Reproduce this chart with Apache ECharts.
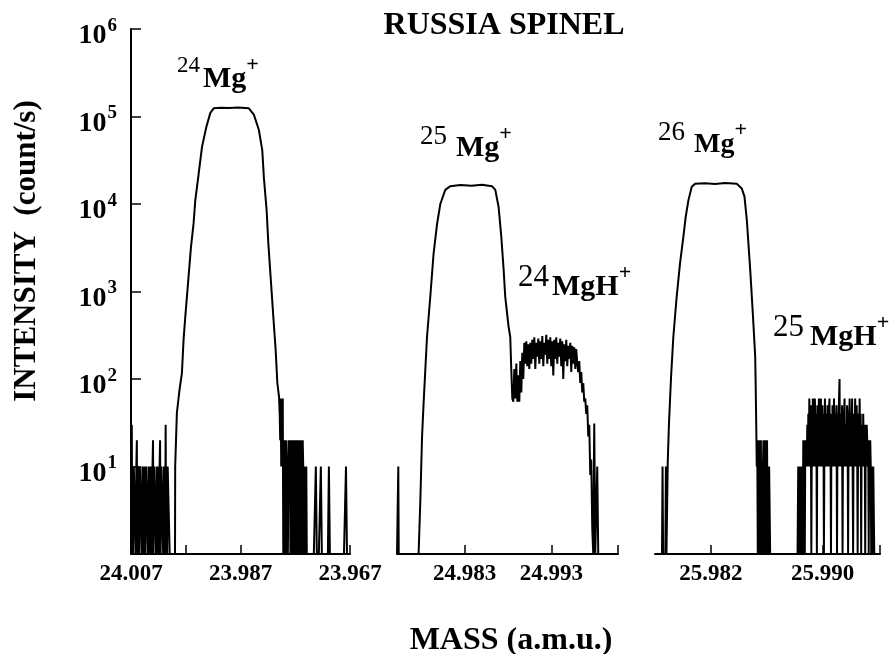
<!DOCTYPE html>
<html>
<head>
<meta charset="utf-8">
<script src="https://cdn.jsdelivr.net/npm/echarts@6/dist/echarts.min.js"></script>
<style>
  html, body { margin: 0; background: #fff; }
  #chart { width: 896px; height: 654px; }
</style>
</head>
<body>
<div id="chart"></div>
<script>
// intensity axis (counts/s, log)
const yTicks = [10, 100, 1000, 10000, 100000, 1000000];

// ---- panel 1 : 24Mg+ (mass axis runs high -> low) ----
const p1TickMass = [24.007, 23.997, 23.987, 23.977, 23.967];
const p1LabelMass = [24.007, 23.987, 23.967];
const p1NoiseLeftRange = [24.00695, 23.99984];
const p1NoiseLeft = [1, 30, 1, 10, 1, 10, 10, 10, 10, 1,
  10, 20, 1, 10, 1, 10, 1, 10, 10, 10,
  10, 1, 10, 10, 1, 10, 1, 10, 1, 10,
  10, 10, 10, 1, 10, 1, 10, 1, 10, 1,
  10, 1, 10, 20, 1, 10, 10, 10, 10, 1,
  10, 1, 10, 1, 10, 1, 10, 20, 1, 10,
  10, 10, 10, 1, 10, 1, 10, 1, 30, 1,
  10, 1, 10, 10, 10, 10, 1, 1];
const p1Peak = [[23.99896, 1], [23.99893, 10], [23.99862, 41], [23.99814, 75], [23.99770, 117],
  [23.99740, 280], [23.99709, 510], [23.99649, 1470], [23.99605, 3200], [23.99557, 6000],
  [23.99526, 11000], [23.99465, 22000], [23.99403, 45000], [23.99324, 76000], [23.99251, 110000],
  [23.99190, 124000], [23.99050, 126000], [23.98900, 125000], [23.98750, 127000], [23.98548, 124000],
  [23.98456, 105000], [23.98364, 70000], [23.98302, 41000], [23.98273, 20000], [23.98223, 8500],
  [23.98192, 3600], [23.98150, 1470], [23.98100, 510], [23.98058, 215], [23.98027, 90], [23.97997, 63]];
const p1NoiseRightRange = [23.97984, 23.97489];
const p1NoiseRight = [40, 20, 60, 10, 40, 20, 60, 1, 20, 10,
  1, 20, 1, 20, 20, 20, 1, 10, 20, 10,
  20, 1, 10, 20, 1, 20, 20, 20, 1, 20,
  1, 10, 20, 10, 1, 20, 1, 20, 20, 20,
  1, 20, 1, 10, 1, 20, 10, 1, 10, 10,
  10, 1, 10, 1];
const p1TailRange = [23.97471, 23.96700];
const p1Tail = [1, 1, 1, 1, 1, 1, 1, 1, 10, 1, 1, 1, 1, 10, 1, 1, 1, 1, 1, 1, 1, 10, 1, 1, 1,
  1, 1, 1, 1, 1, 1, 1, 1, 1, 1, 1, 1, 1, 10, 1, 1, 1, 1];

// ---- panel 2 : 25Mg+ and 24MgH+ ----
const p2TickMass = [24.983, 24.993, 25.0007];
const p2LabelMass = [24.983, 24.993];
const p2Peak = [[24.97520, 1], [24.97530, 1], [24.97535, 10], [24.97540, 1], [24.97769, 1],
  [24.97789, 4], [24.97809, 22], [24.97827, 53], [24.97866, 300], [24.97904, 870],
  [24.97942, 2700], [24.97982, 5900], [24.98020, 10000], [24.98077, 14500], [24.98135, 16000],
  [24.98250, 16500], [24.98380, 16200], [24.98500, 16600], [24.98616, 16000], [24.98654, 14500],
  [24.98692, 9300], [24.98723, 4300], [24.98750, 1800], [24.98769, 870], [24.98807, 400], [24.98827, 300]];
const p2MgHRange = [24.98839, 24.99842];
const p2MgH = [125, 60, 55, 130, 60, 150, 55, 110, 55, 160,
  70, 200, 100, 260, 150, 270, 140, 250, 130, 260,
  150, 280, 170, 300, 130, 260, 180, 290, 150, 270,
  170, 310, 140, 260, 190, 320, 150, 280, 170, 300,
  140, 270, 110, 280, 170, 300, 150, 260, 180, 290,
  140, 270, 100, 250, 160, 280, 140, 240, 170, 260,
  120, 240, 150, 230, 130, 220, 150,
  120, 160, 90, 120, 70, 90, 55, 60, 40, 50,
  22, 30, 8, 12, 2, 1, 31, 1, 1, 10, 1];
const p2End = [[24.99850, 1], [25.00070, 1]];

// ---- panel 3 : 26Mg+ and 25MgH+ ----
const p3TickMass = [25.982, 25.990, 25.9941];
const p3LabelMass = [25.982, 25.990];
const p3Peak = [[25.97800, 1], [25.97850, 1], [25.97854, 10], [25.97858, 1], [25.97874, 1],
  [25.97878, 10], [25.97882, 1], [25.97886, 1], [25.97891, 11], [25.97900, 31], [25.97915, 106],
  [25.97931, 300], [25.97955, 870], [25.97979, 2100], [25.98003, 4200], [25.98020, 7200],
  [25.98039, 11000], [25.98063, 15700], [25.98087, 17000], [25.98158, 17300], [25.98230, 16900],
  [25.98302, 17400], [25.98385, 17000], [25.98421, 15000], [25.98440, 12200], [25.98457, 6600],
  [25.98481, 1800], [25.98500, 560]];
const p3NoiseRange = [25.98517, 25.98624];
const p3Noise = [180, 80, 30, 10, 20, 1, 20, 10, 20, 1, 10, 20, 1, 10, 1,
  10, 20, 10, 1, 20, 10, 1, 10, 20, 1, 10, 1, 10, 10, 1];
const p3Gap = [[25.98820, 1]];
const p3MgHRange = [25.98825, 25.99369];
const p3MgH = [10, 1, 10, 10, 1, 10, 1, 10, 10, 1,
  20, 10, 20, 1, 20, 10, 20, 10, 30, 10,
  40, 10, 60, 20, 10, 50, 1, 30, 10, 60,
  20, 40, 10, 60, 30, 10, 40, 1, 50, 10,
  30, 60, 10, 40, 20, 60, 10, 30, 50, 10,
  40, 1, 20, 60, 10, 40, 30, 10, 50, 20,
  10, 40, 60, 10, 30, 1, 40, 10, 50, 30,
  10, 60, 20, 40, 10, 30, 50, 1, 40, 10,
  30, 60, 100, 10, 40, 20, 10, 50, 1, 30,
  10, 40, 60, 10, 30, 20, 10, 50, 40, 1,
  30, 10, 60, 20, 40, 10, 30, 60, 10, 1,
  40, 20, 10, 60, 30, 10, 50, 20, 1, 40,
  10, 30, 60, 10, 40, 1, 30, 20, 10, 40,
  20, 10, 30, 1, 20, 10, 30, 20, 10, 20,
  1, 20, 10, 20, 10, 1, 10, 10, 1, 10,
  10, 1];
const p3End = [[25.99410, 1]];

// channel counts -> [mass, count] over the channel's mass span
function channels(range, counts) {
  const n = counts.length - 1;
  return counts.map((c, i) => [range[0] + (range[1] - range[0]) * i / n, c]);
}

const p1Data = [].concat(channels(p1NoiseLeftRange, p1NoiseLeft), p1Peak,
  channels(p1NoiseRightRange, p1NoiseRight), channels(p1TailRange, p1Tail));
const p2Data = [].concat(p2Peak, channels(p2MgHRange, p2MgH), p2End);
const p3Data = [].concat(p3Peak, channels(p3NoiseRange, p3Noise), p3Gap,
  channels(p3MgHRange, p3MgH), p3End);

const font = 'Liberation Serif';

function massAxis(gridIndex, min, max, ticks, labels, inverse) {
  return {
    type: 'value',
    gridIndex: gridIndex,
    min: min,
    max: max,
    inverse: inverse,
    axisLine: { onZero: false, lineStyle: { color: '#000', width: 2 } },
    axisTick: { inside: true, length: 9, customValues: ticks, lineStyle: { color: '#000', width: 1.5 } },
    axisLabel: {
      customValues: labels,
      formatter: v => v.toFixed(3),
      color: '#000',
      fontFamily: font,
      fontWeight: 'bold',
      fontSize: 23,
      margin: 9
    },
    splitLine: { show: false }
  };
}

function hiddenLogAxis(gridIndex) {
  return { type: 'log', logBase: 10, gridIndex: gridIndex, min: 1, max: 1000000, show: false };
}

function line(idx, data) {
  return {
    type: 'line',
    xAxisIndex: idx,
    yAxisIndex: idx,
    data: data,
    showSymbol: false,
    symbol: 'none',
    lineStyle: { color: '#000', width: 2 },
    silent: true
  };
}

function peakLabel(x, top, pre, ion, preSize, preLH, gap, ionSize) {
  return {
    type: 'text',
    x: x,
    y: top,
    style: {
      text: '{n|' + pre + '}{m|' + ion + '}{p|+}',
      align: 'left',
      verticalAlign: 'top',
      fill: '#000',
      rich: {
        n: { fontFamily: font, fontSize: preSize, lineHeight: preLH, verticalAlign: 'top', padding: [0, gap, 0, 0], fill: '#000' },
        m: { fontFamily: font, fontWeight: 'bold', fontSize: ionSize, lineHeight: 40, verticalAlign: 'bottom', fill: '#000' },
        p: { fontFamily: font, fontWeight: 'bold', fontSize: 22, lineHeight: 20, verticalAlign: 'top', fill: '#000' }
      }
    }
  };
}

function plainText(x, y, text, size, rotation) {
  return {
    type: 'text',
    x: x,
    y: y,
    rotation: rotation || 0,
    style: {
      text: text,
      align: 'center',
      verticalAlign: 'middle',
      fontFamily: font,
      fontWeight: 'bold',
      fontSize: size,
      fill: '#000'
    }
  };
}

const chart = echarts.init(document.getElementById('chart'));
chart.setOption({
  animation: false,
  backgroundColor: '#fff',
  grid: [
    { left: 131, top: 29, width: 219, height: 525 },
    { left: 397, top: 29, width: 221, height: 525 },
    { left: 655, top: 29, width: 225, height: 525 }
  ],
  xAxis: [
    massAxis(0, 23.967, 24.007, p1TickMass, p1LabelMass, true),
    massAxis(1, 24.9752, 25.0007, p2TickMass, p2LabelMass, false),
    massAxis(2, 25.978, 25.9941, p3TickMass, p3LabelMass, false)
  ],
  yAxis: [
    {
      type: 'log',
      logBase: 10,
      gridIndex: 0,
      min: 1,
      max: 1000000,
      axisLine: { show: true, onZero: false, lineStyle: { color: '#000', width: 2 } },
      axisTick: { inside: true, length: 10, customValues: yTicks, lineStyle: { color: '#000', width: 1.5 } },
      axisLabel: {
        customValues: yTicks,
        margin: 14,
        formatter: v => '{b|10}{s|' + Math.round(Math.log10(v)) + '}',
        rich: {
          b: { fontFamily: font, fontWeight: 'bold', fontSize: 28, lineHeight: 28, padding: [14, 1, 0, 0], color: '#000' },
          s: { fontFamily: font, fontWeight: 'bold', fontSize: 19, lineHeight: 19, padding: [0, 0, 6, 0], color: '#000' }
        }
      },
      splitLine: { show: false }
    },
    hiddenLogAxis(1),
    hiddenLogAxis(2)
  ],
  series: [line(0, p1Data), line(1, p2Data), line(2, p3Data)],
  graphic: [
    plainText(504, 26, 'RUSSIA SPINEL', 32),
    plainText(511, 641, 'MASS (a.m.u.)', 32),
    plainText(27, 251, 'INTENSITY  (count/s)', 31, Math.PI / 2),
    peakLabel(177, 54, '24', 'Mg', 23, 21, 3, 30),
    peakLabel(420, 123, '25', 'Mg', 27, 19, 9, 30),
    peakLabel(518, 262, '24', 'MgH', 31, 19, 3, 30),
    peakLabel(658, 119, '26', 'Mg', 27, 19, 9, 28),
    peakLabel(773, 312, '25', 'MgH', 31, 26, 6, 30)
  ]
});
</script>
</body>
</html>
